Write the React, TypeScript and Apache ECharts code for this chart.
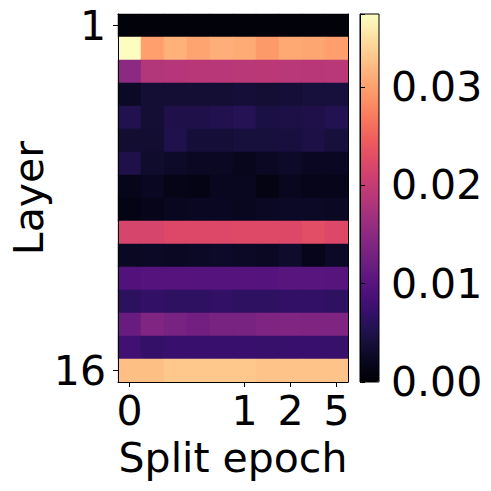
import React, { useEffect, useRef } from "react";
import * as echarts from "echarts";

// Split-epoch columns (only some carry a tick label)
const columnIds = ["c0", "c1", "c2", "c3", "c4", "c5", "c6", "c7", "c8", "c9"];
const columnTickLabels = ["0", "", "", "", "", "1", "", "2", "", "5"];

// Layers 1..16 (only first and last labelled)
const layerIds = ["1", "2", "3", "4", "5", "6", "7", "8", "9", "10", "11", "12", "13", "14", "15", "16"];
const layerTickLabels = ["1", "", "", "", "", "", "", "", "", "", "", "", "", "", "", "16"];

// Colorbar
const colorMin = 0;
const colorMax = 0.0374;
const colorbarTicks = [0, 0.01, 0.02, 0.03];

// Values per layer (row) and split-epoch column
const layerValues: number[][] = [
  [0.0005, 0.0005, 0.0005, 0.0005, 0.0005, 0.0005, 0.0005, 0.0005, 0.0005, 0.0005],
  [0.0374, 0.0299, 0.0314, 0.0303, 0.0312, 0.0309, 0.0295, 0.0307, 0.0305, 0.0299],
  [0.0150, 0.0183, 0.0185, 0.0187, 0.0187, 0.0189, 0.0191, 0.0189, 0.0187, 0.0189],
  [0.0026, 0.0037, 0.0037, 0.0037, 0.0037, 0.0039, 0.0037, 0.0039, 0.0041, 0.0041],
  [0.0052, 0.0037, 0.0049, 0.0049, 0.0052, 0.0056, 0.0045, 0.0047, 0.0049, 0.0054],
  [0.0034, 0.0034, 0.0050, 0.0039, 0.0039, 0.0041, 0.0041, 0.0043, 0.0047, 0.0041],
  [0.0049, 0.0032, 0.0028, 0.0024, 0.0024, 0.0019, 0.0024, 0.0028, 0.0022, 0.0022],
  [0.0017, 0.0022, 0.0015, 0.0013, 0.0021, 0.0021, 0.0011, 0.0021, 0.0017, 0.0017],
  [0.0013, 0.0017, 0.0021, 0.0022, 0.0022, 0.0021, 0.0024, 0.0026, 0.0026, 0.0024],
  [0.0217, 0.0217, 0.0223, 0.0223, 0.0223, 0.0224, 0.0224, 0.0223, 0.0230, 0.0223],
  [0.0024, 0.0026, 0.0024, 0.0026, 0.0028, 0.0026, 0.0024, 0.0030, 0.0017, 0.0026],
  [0.0094, 0.0097, 0.0097, 0.0097, 0.0097, 0.0097, 0.0097, 0.0101, 0.0101, 0.0099],
  [0.0062, 0.0067, 0.0065, 0.0065, 0.0067, 0.0065, 0.0065, 0.0067, 0.0067, 0.0064],
  [0.0116, 0.0138, 0.0131, 0.0125, 0.0131, 0.0131, 0.0137, 0.0138, 0.0137, 0.0137],
  [0.0079, 0.0069, 0.0073, 0.0073, 0.0073, 0.0073, 0.0071, 0.0073, 0.0073, 0.0071],
  [0.0324, 0.0324, 0.0331, 0.0331, 0.0331, 0.0331, 0.0327, 0.0327, 0.0327, 0.0327],
];

// magma colormap stops (0..1 in steps of 0.05)
const magma = [
  "#000004", "#07061c", "#140e36", "#251255", "#3b0f70", "#51127c", "#641a80",
  "#782281", "#8c2981", "#a1307e", "#b73779", "#cb3e71", "#de4968", "#ed5a5f",
  "#f7705c", "#fc8961", "#fe9f6d", "#feb77e", "#fecf92", "#fde7a9", "#fcfdbf",
];

const FONT = "DejaVu Sans";
const FS = 41;

// layout
const G = { left: 118, top: 14, width: 230, height: 368 };
const CB = { left: 360, top: 14, width: 19, height: 368 };

export default function App() {
  const ref = useRef<HTMLDivElement>(null);
  useEffect(() => {
    if (!ref.current) return;
    const chart = echarts.init(ref.current, null, { renderer: "svg" });
    const data: number[][] = [];
    layerValues.forEach((row, r) => row.forEach((v, c) => data.push([c, r, v])));

    const axisLineStyle = { color: "#000", width: 1 };
    chart.setOption({
      animation: false,
      backgroundColor: "#fff",
      textStyle: { fontFamily: FONT },
      grid: [
        { left: G.left, top: G.top, width: G.width, height: G.height, containLabel: false },
        { left: CB.left, top: CB.top, width: CB.width, height: CB.height, containLabel: false },
      ],
      xAxis: [
        {
          type: "category",
          gridIndex: 0,
          data: columnIds,
          position: "bottom",
          z: 10,
          name: "Split epoch",
          nameLocation: "middle",
          nameGap: 55,
          nameTextStyle: { fontSize: FS, color: "#000", fontFamily: FONT },
          axisLine: { show: true, lineStyle: axisLineStyle },
          axisTick: {
            show: true,
            alignWithLabel: true,
            length: 5,
            lineStyle: axisLineStyle,
            interval: (i: number) => columnTickLabels[i] !== "",
          },
          axisLabel: {
            interval: 0,
            margin: 8,
            fontSize: FS,
            color: "#000",
            fontFamily: FONT,
            formatter: (_v: string, i: number) => columnTickLabels[i],
          },
          splitLine: { show: false },
          splitArea: { show: false },
        },
        {
          type: "category",
          gridIndex: 0,
          data: columnIds,
          position: "top",
          z: 10,
          axisLine: { show: true, lineStyle: axisLineStyle },
          axisTick: { show: false },
          axisLabel: { show: false },
          splitLine: { show: false },
        },
        {
          type: "value",
          gridIndex: 1,
          show: false,
          min: 0,
          max: 1,
        },
      ],
      yAxis: [
        {
          type: "category",
          gridIndex: 0,
          data: layerIds,
          inverse: true,
          position: "left",
          z: 10,
          name: "Layer",
          nameLocation: "middle",
          nameGap: 68,
          nameRotate: 90,
          nameTextStyle: { fontSize: FS, color: "#000", fontFamily: FONT },
          axisLine: { show: true, lineStyle: axisLineStyle },
          axisTick: {
            show: true,
            alignWithLabel: true,
            length: 5,
            lineStyle: axisLineStyle,
            interval: (i: number) => layerTickLabels[i] !== "",
          },
          axisLabel: {
            interval: 0,
            margin: 12,
            fontSize: FS,
            color: "#000",
            fontFamily: FONT,
            formatter: (_v: string, i: number) => layerTickLabels[i],
          },
          splitLine: { show: false },
        },
        {
          type: "category",
          gridIndex: 0,
          data: layerIds,
          inverse: true,
          position: "right",
          z: 10,
          axisLine: { show: true, lineStyle: axisLineStyle },
          axisTick: { show: false },
          axisLabel: { show: false },
          splitLine: { show: false },
        },
        {
          type: "value",
          gridIndex: 1,
          min: colorMin,
          max: colorMax,
          interval: 0.01,
          position: "right",
          z: 10,
          axisLine: { show: true, lineStyle: axisLineStyle },
          axisTick: { show: true, length: 5, lineStyle: axisLineStyle },
          axisLabel: {
            margin: 12,
            fontSize: FS,
            color: "#000",
            fontFamily: FONT,
            customValues: colorbarTicks,
            formatter: (v: number) => v.toFixed(2),
          },
          splitLine: { show: false },
        },
      ],
      visualMap: {
        type: "continuous",
        show: true,
        seriesIndex: 0,
        min: colorMin,
        max: colorMax,
        calculable: false,
        hoverLink: false,
        orient: "vertical",
        left: CB.left,
        top: CB.top,
        itemWidth: CB.width,
        itemHeight: CB.height,
        padding: 0,
        text: null,
        inRange: { color: magma },
        z: 4,
      },
      graphic: [
        {
          type: "rect",
          z: 100,
          shape: { x: CB.left, y: CB.top, width: CB.width, height: CB.height },
          style: { fill: "none", stroke: "#000", lineWidth: 1 },
          silent: true,
        },
      ],
      series: [
        {
          type: "heatmap",
          xAxisIndex: 0,
          yAxisIndex: 0,
          data,
          itemStyle: { borderWidth: 0 },
          emphasis: { disabled: true },
          progressive: 0,
        },
      ],
    });
    return () => chart.dispose();
  }, []);
  return (
    <div
      ref={ref}
      style={{ position: "fixed", left: 0, top: 0, width: 491, height: 491, background: "#fff" }}
    />
  );
}
